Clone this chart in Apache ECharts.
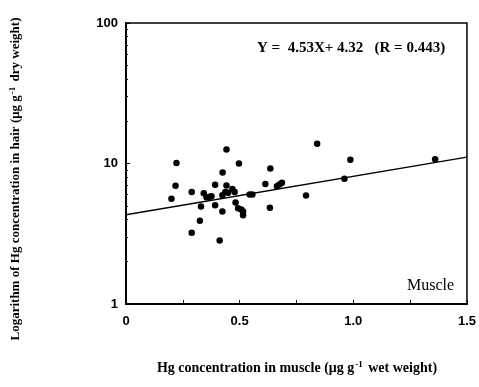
<!DOCTYPE html>
<html>
<head>
<meta charset="utf-8">
<script src="https://cdn.jsdelivr.net/npm/echarts@6/dist/echarts.min.js"></script>
<style>
  html, body { margin: 0; padding: 0; background: #fff; }
  #chart { width: 479px; height: 387px; }
</style>
</head>
<body>
<div id="chart"></div>
<script>
// Hg in muscle (x) vs hair (y, log scale)
const muscleHg = [
  0.200, 0.218, 0.222, 0.289, 0.289, 0.325, 0.330, 0.342, 0.354, 0.368,
  0.376, 0.392, 0.392, 0.412, 0.424, 0.424, 0.425, 0.437, 0.442, 0.442,
  0.449, 0.468, 0.478, 0.482, 0.493, 0.497, 0.507, 0.515, 0.515, 0.544,
  0.556, 0.613, 0.635, 0.633, 0.664, 0.675, 0.686, 0.792, 0.841, 0.961,
  0.987, 1.360
]
const hairHg = [
  5.62, 6.95, 10.1, 6.28, 3.22, 3.92, 4.95, 6.15, 5.76, 5.80,
  5.84, 7.06, 5.04, 2.83, 4.56, 5.94, 8.62, 6.28, 12.6, 6.96,
  6.20, 6.59, 6.28, 5.27, 4.80, 10.0, 4.70, 4.28, 4.55, 6.01,
  6.01, 7.14, 9.20, 4.84, 6.89, 7.08, 7.28, 5.92, 13.8, 7.80,
  10.65, 10.7
]
// regression line Y = 4.53X + 4.32, end points
const fitX = [0, 1.5]
const fitY = [4.32, 11.1]

const xTicks = ['0', '0.5', '1.0', '1.5']

const serif = '"Liberation Serif", "DejaVu Serif", serif'
const sans = '"Liberation Sans", Arial, sans-serif'

const chart = echarts.init(document.getElementById('chart'))

const option = {
  animation: false,
  backgroundColor: '#fff',
  grid: {
    left: 126,
    right: 11,
    top: 23,
    bottom: 83,
    show: true,
    borderColor: '#000',
    borderWidth: 1.5,
    backgroundColor: 'transparent'
  },
  xAxis: {
    type: 'value',
    min: 0,
    max: 1.5,
    interval: 0.5,
    axisLine: { show: true, lineStyle: { color: '#000', width: 2 } },
    axisTick: { show: true, inside: true, length: 4, lineStyle: { color: '#000' } },
    minorTick: { show: true, splitNumber: 2, length: 4, lineStyle: { color: '#000' } },
    splitLine: { show: false },
    axisLabel: {
      color: '#000',
      fontFamily: sans,
      fontWeight: 'bold',
      fontSize: 13,
      margin: 11,
      formatter: (v) => xTicks[Math.round(v / 0.5)]
    }
  },
  yAxis: {
    type: 'log',
    logBase: 10,
    min: 1,
    max: 100,
    axisLine: { show: true, lineStyle: { color: '#000', width: 2 } },
    axisTick: { show: true, inside: true, length: 4, lineStyle: { color: '#000' } },
    minorTick: { show: true, splitNumber: 9, length: 2, lineStyle: { color: '#000' } },
    splitLine: { show: false },
    axisLabel: {
      color: '#000',
      fontFamily: sans,
      fontWeight: 'bold',
      fontSize: 13,
      margin: 8
    }
  },
  series: [
    {
      type: 'line',
      data: fitX.map((x, i) => [x, fitY[i]]),
      showSymbol: false,
      symbol: 'none',
      lineStyle: { color: '#000', width: 1.5 },
      z: 2
    },
    {
      type: 'scatter',
      data: muscleHg.map((x, i) => [x, hairHg[i]]),
      symbol: 'circle',
      symbolSize: 6.5,
      itemStyle: { color: '#000', opacity: 1 },
      z: 3
    }
  ],
  graphic: [
    {
      type: 'text',
      x: 257,
      y: 48,
      style: {
        text: 'Y =  4.53X+ 4.32   (R = 0.443)',
        font: 'bold 15px ' + serif,
        fill: '#000',
        verticalAlign: 'middle'
      }
    },
    {
      type: 'text',
      left: 407,
      top: 278,
      style: {
        text: 'Muscle',
        font: '16px ' + serif,
        fill: '#000'
      }
    },
    {
      type: 'text',
      x: 297,
      y: 368,
      style: {
        text: '{a|Hg concentration in muscle (\u03bcg g}{s|-1}{a| wet weight)}',
        align: 'center',
        verticalAlign: 'middle',
        rich: {
          a: { font: 'bold 14px ' + serif, fill: '#000' },
          s: { font: 'bold 9px ' + serif, fill: '#000', verticalAlign: 'top', padding: [0, 2, 6, 1] }
        }
      }
    },
    {
      type: 'text',
      x: 16,
      y: 179,
      rotation: Math.PI / 2,
      style: {
        text: '{a|Logarithm of Hg concentration in hair (\u03bcg g}{s|-1}{a| dry weight)}',
        align: 'center',
        verticalAlign: 'middle',
        rich: {
          a: { font: 'bold 13px ' + serif, fill: '#000' },
          s: { font: 'bold 9px ' + serif, fill: '#000', verticalAlign: 'top', padding: [0, 2, 6, 1] }
        }
      }
    }
  ]
}

chart.setOption(option)
</script>
</body>
</html>
